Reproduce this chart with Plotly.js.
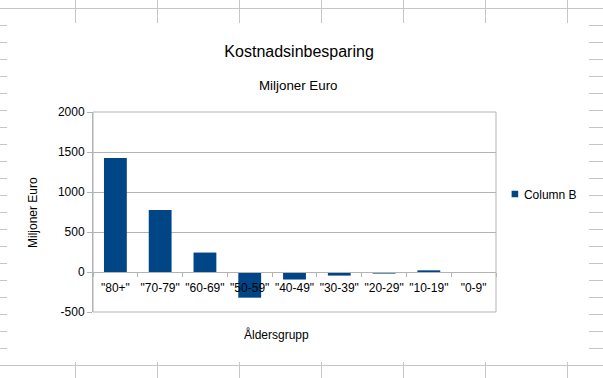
<!DOCTYPE html>
<html>
<head>
<meta charset="utf-8">
<script src="https://cdn.plot.ly/plotly-3.0.1.min.js"></script>
<style>
  html, body { margin: 0; padding: 0; background: #ffffff; }
  #wrap { position: relative; width: 603px; height: 378px; overflow: hidden; }
  #bg { position: absolute; left: 0; top: 0; }
  #chart { position: absolute; left: 0; top: 0; width: 603px; height: 378px; }
  #chart .legendpoints path { transform: translate(31px, 0px) scale(0.55); }
</style>
</head>
<body>
<div id="wrap">
  <svg id="bg" width="603" height="378"></svg>
  <div id="chart"></div>
</div>
<script>
// ---- data ----
const categories = ['"80+"', '"70-79"', '"60-69"', '"50-59"', '"40-49"', '"30-39"', '"20-29"', '"10-19"', '"0-9"'];
const columnB = [1425, 774, 243, -321, -94, -45, -20, 21, 0];
const yTickValues = [-500, 0, 500, 1000, 1500, 2000];

// ---- spreadsheet background (decoration behind the chart object) ----
(function drawSheet() {
  const svg = document.getElementById('bg');
  const ns = 'http://www.w3.org/2000/svg';
  const col = '#c6c6c6';
  function line(x1, y1, x2, y2) {
    const l = document.createElementNS(ns, 'line');
    l.setAttribute('x1', x1); l.setAttribute('y1', y1);
    l.setAttribute('x2', x2); l.setAttribute('y2', y2);
    l.setAttribute('stroke', col); l.setAttribute('stroke-width', 1);
    l.setAttribute('shape-rendering', 'crispEdges');
    svg.appendChild(l);
  }
  line(0, 8.5, 603, 8.5);
  line(0, 365.5, 603, 365.5);
  const vx = [75.5, 157.5, 239.5, 321.5, 403.5, 485.5, 567.5];
  vx.forEach(x => { line(x, 0, x, 23); line(x, 362, x, 378); });
  for (let y = 25.5; y < 362; y += 17) {
    line(0, y, 7, y);
    line(589, y, 603, y);
  }
})();

const FONT = 'Liberation Sans, Arial, sans-serif';
const GRID = '#b3b3b3';

const trace = {
  type: 'bar',
  name: 'Column B',
  x: categories,
  y: columnB,
  marker: { color: '#004586', line: { width: 0 } },
  hoverinfo: 'x+y'
};

const layout = {
  width: 603,
  height: 378,
  margin: { l: 93, r: 107, t: 112, b: 66, pad: 0 },
  paper_bgcolor: 'rgba(0,0,0,0)',
  plot_bgcolor: '#ffffff',
  font: { family: FONT, size: 12, color: '#000000' },
  bargap: 0.49,
  title: {
    text: 'Kostnadsinbesparing',
    font: { family: FONT, size: 16, color: '#000000' },
    xref: 'container', yref: 'container',
    x: 0.496, xanchor: 'center',
    y: 1 - 51 / 378, yanchor: 'middle'
  },
  xaxis: {
    type: 'category',
    range: [-0.5, categories.length - 0.5],
    anchor: 'free',
    position: 0.2,
    showline: true, linecolor: GRID, linewidth: 1,
    showgrid: false, zeroline: false,
    ticks: 'outside', tickson: 'boundaries', ticklen: 4, tickcolor: GRID, tickwidth: 1,
    tickangle: 0,
    tickfont: { family: FONT, size: 12, color: '#000000' },
    ticklabelstandoff: 5,
    fixedrange: true
  },
  yaxis: {
    range: [-500, 2000],
    tickvals: yTickValues,
    ticktext: yTickValues.map(String),
    showline: true, linecolor: GRID, linewidth: 1,
    showgrid: true, gridcolor: GRID, gridwidth: 1,
    zeroline: true, zerolinecolor: GRID, zerolinewidth: 1,
    ticks: 'outside', ticklen: 5, tickcolor: GRID, tickwidth: 1,
    tickfont: { family: FONT, size: 12, color: '#000000' },
    ticklabelstandoff: 0,
    fixedrange: true
  },
  showlegend: true,
  legend: {
    x: 0.97, xanchor: 'left',
    y: 0.59, yanchor: 'middle',
    font: { family: FONT, size: 12, color: '#000000' },
    bgcolor: 'rgba(0,0,0,0)', borderwidth: 0
  },
  shapes: [
    { type: 'rect', xref: 'paper', yref: 'paper', x0: 0, x1: 1, y0: 0, y1: 1,
      line: { color: GRID, width: 1 }, fillcolor: 'rgba(0,0,0,0)', layer: 'above' }
  ],
  annotations: [
    { text: 'Miljoner Euro', xref: 'paper', yref: 'paper',
      x: (298.5 - 93) / 403, y: (312 - 85) / 200, xanchor: 'center', yanchor: 'middle',
      showarrow: false, font: { family: FONT, size: 13.33, color: '#000000' } },
    { text: 'Miljoner Euro', xref: 'paper', yref: 'paper',
      x: (33 - 93) / 403, y: (312 - 213) / 200, xanchor: 'center', yanchor: 'middle',
      textangle: -90, showarrow: false, font: { family: FONT, size: 12, color: '#000000' } },
    { text: 'Åldersgrupp', xref: 'paper', yref: 'paper',
      x: (276.7 - 93) / 403, y: (312 - 334) / 200, xanchor: 'center', yanchor: 'middle',
      showarrow: false, font: { family: FONT, size: 12, color: '#000000' } }
  ]
};

Plotly.newPlot('chart', [trace], layout, { displayModeBar: false, staticPlot: true });
</script>
</body>
</html>
